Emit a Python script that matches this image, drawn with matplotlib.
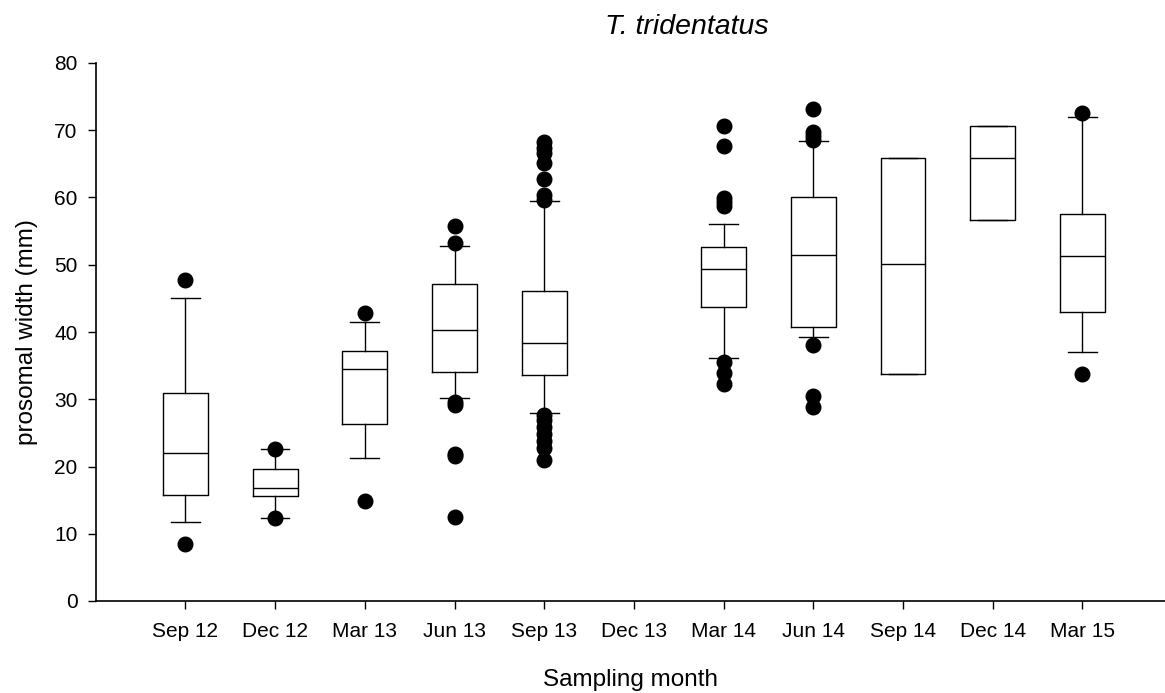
import matplotlib
matplotlib.use("Agg")
import matplotlib.pyplot as plt

plt.rcParams['font.family'] = ['Liberation Sans', 'DejaVu Sans']

months = ['Sep 12', 'Dec 12', 'Mar 13', 'Jun 13', 'Sep 13', 'Dec 13',
          'Mar 14', 'Jun 14', 'Sep 14', 'Dec 14', 'Mar 15']

# box statistics (None = no sample that month)
whislo = [11.7, 12.3, 21.2, 30.2, 27.9, None, 36.2, 39.3, 33.8, 56.6, 37.0]
q1 = [15.8, 15.6, 26.3, 34.0, 33.6, None, 43.7, 40.8, 33.8, 56.6, 43.0]
med = [22.0, 16.8, 34.5, 40.3, 38.3, None, 49.3, 51.4, 50.1, 65.8, 51.3]
q3 = [30.9, 19.7, 37.2, 47.2, 46.1, None, 52.6, 60.0, 65.9, 70.6, 57.5]
whishi = [45.0, 22.6, 41.5, 52.8, 59.5, None, 56.1, 68.4, 65.9, 70.6, 72.0]
fliers = [
    [47.8, 8.5],
    [22.6, 12.3],
    [42.8, 14.9],
    [55.7, 53.2, 29.6, 29.2, 21.9, 21.5, 12.5],
    [68.2, 67.4, 66.6, 65.1, 62.8, 60.3, 59.6,
     27.7, 26.9, 25.9, 24.8, 23.8, 22.8, 21.0],
    [],
    [70.6, 67.7, 59.9, 59.3, 58.7, 35.6, 33.9, 32.3],
    [73.1, 69.8, 69.2, 68.6, 38.1, 30.5, 28.9],
    [],
    [],
    [72.6, 33.7],
]

stats = []
positions = []
for i, m in enumerate(months):
    if med[i] is None:
        continue
    stats.append(dict(label=m, whislo=whislo[i], q1=q1[i], med=med[i],
                      q3=q3[i], whishi=whishi[i], fliers=fliers[i]))
    positions.append(i + 1)

fig = plt.figure(figsize=(11.65, 6.93), dpi=100)
ax = fig.add_axes([95.7 / 1165, 92 / 693, 1 - 95.7 / 1165, 538 / 693])

lw = 1.0
ax.bxp(stats, positions=positions, widths=0.5, capwidths=0.32,
       showfliers=True, patch_artist=False,
       boxprops=dict(color='black', linewidth=lw),
       medianprops=dict(color='black', linewidth=lw),
       whiskerprops=dict(color='black', linewidth=lw),
       capprops=dict(color='black', linewidth=lw),
       flierprops=dict(marker='o', markerfacecolor='black',
                       markeredgecolor='black', markersize=10.5))

ax.set_xlim(0, 11.92)
ax.set_ylim(0, 80)
ax.set_xticks(range(1, len(months) + 1))
ax.set_xticklabels(months)
ax.set_yticks(range(0, 81, 10))
ax.tick_params(axis='both', direction='out', length=6, width=1,
               labelsize=15, pad=7)
ax.tick_params(axis='x', pad=9)
ax.spines['top'].set_visible(False)
ax.spines['right'].set_visible(False)
for s in ['left', 'bottom']:
    ax.spines[s].set_linewidth(1.2)

ax.set_xlabel('Sampling month', fontsize=17.5, labelpad=20)
ax.set_ylabel('prosomal width (mm)', fontsize=17.5, labelpad=12)
fig.text(687 / 1165, 1 - 27 / 693, 'T. tridentatus', fontsize=20.5,
         style='italic', ha='center', va='center')

fig.savefig('out.png', dpi=100)
